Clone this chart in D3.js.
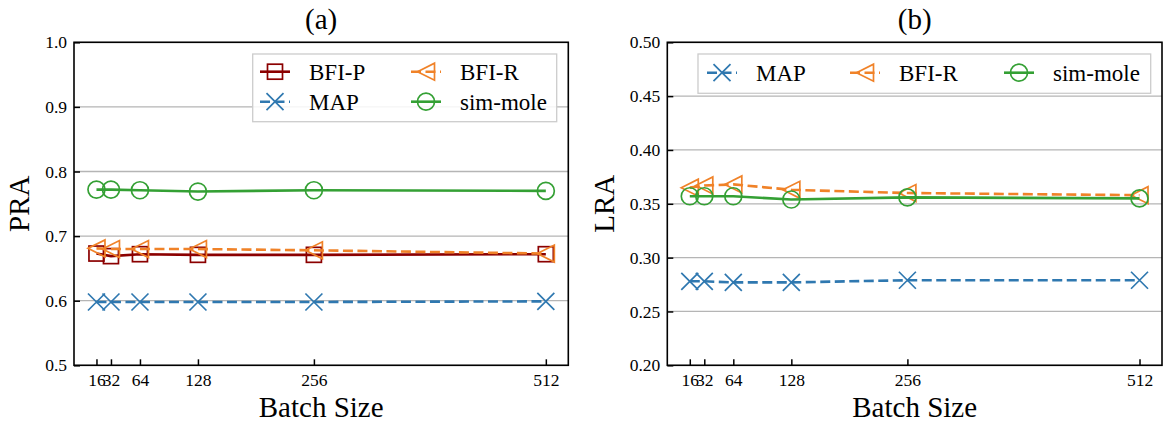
<!DOCTYPE html>
<html>
<head>
<meta charset="utf-8">
<script src="https://cdn.jsdelivr.net/npm/d3@7"></script>
<style>
  body { margin: 0; background: #fff; }
</style>
</head>
<body>
<svg id="chart" width="1172" height="426"></svg>
<script>
// data
const batchSizes = [16, 32, 64, 128, 256, 512];

const praBfiP = [0.673, 0.669, 0.672, 0.671, 0.671, 0.672];
const praMap  = [0.598, 0.598, 0.598, 0.598, 0.598, 0.599];
const praBfiR = [0.681, 0.680, 0.680, 0.680, 0.678, 0.673];
const praSim  = [0.772, 0.772, 0.771, 0.769, 0.771, 0.770];

const lraMap  = [0.278, 0.278, 0.277, 0.277, 0.279, 0.279];
const lraBfiR = [0.365, 0.367, 0.368, 0.363, 0.360, 0.358];
const lraSim  = [0.357, 0.357, 0.357, 0.354, 0.356, 0.355];

const praTicks = [0.5, 0.6, 0.7, 0.8, 0.9, 1.0];
const lraTicks = [0.20, 0.25, 0.30, 0.35, 0.40, 0.45, 0.50];

// series styles
const styles = {
    "BFI-P":    { color: "#8b0000", marker: "square",   dash: null },
    "MAP":      { color: "#2f78b0", marker: "x",        dash: "10,4.5" },
    "BFI-R":    { color: "#f08228", marker: "triangle", dash: "10,4.5" },
    "sim-mole": { color: "#34a034", marker: "circle",   dash: null }
};

const svg = d3.select("#chart");

function drawMarker(g, kind, cx, cy, color){
    const s = 8.5;
    const m = g.append("g").attr("transform", `translate(${cx},${cy})`)
        .attr("fill", "none").attr("stroke", color).attr("stroke-width", 1.7);
    if (kind === "square") {
        m.append("rect").attr("x", -7.5).attr("y", -7.5).attr("width", 15).attr("height", 15);
    } else if (kind === "circle") {
        m.append("circle").attr("r", s);
    } else if (kind === "x") {
        m.append("path").attr("d", `M${-s},${-s}L${s},${s}M${-s},${s}L${s},${-s}`);
    } else if (kind === "triangle") {
        m.append("path").attr("d", `M${-s},0L${s},${-s}L${s},${s}Z`);
    }
}

function drawPanel(p){
    const g = svg.append("g");
    const x = d3.scaleLinear().domain([-8.8, 536.8]).range([p.left, p.right]);
    const y = d3.scaleLinear().domain(p.yDomain).range([p.bottom, p.top]);

    // grid
    g.selectAll(".grid").data(p.ticks).enter().append("line")
        .attr("x1", p.left).attr("x2", p.right)
        .attr("y1", d => y(d)).attr("y2", d => y(d))
        .attr("stroke", "#b5b5b5").attr("stroke-width", 1.3);

    // lines + markers
    p.series.forEach(s => {
        const st = styles[s.name];
        const line = d3.line().x((d, i) => x(batchSizes[i])).y(d => y(d));
        g.append("path").datum(s.values)
            .attr("d", line)
            .attr("fill", "none")
            .attr("stroke", st.color)
            .attr("stroke-width", 2.6)
            .attr("stroke-dasharray", st.dash);
        s.values.forEach((v, i) => drawMarker(g, st.marker, x(batchSizes[i]), y(v), st.color));
    });

    // y axis
    const yAxis = d3.axisLeft(y).tickValues(p.ticks).tickFormat(d3.format(p.fmt))
        .tickSizeInner(-6).tickSizeOuter(0).tickPadding(7);
    const ya = g.append("g").attr("transform", `translate(${p.left},0)`).call(yAxis);
    // x axis
    const xAxis = d3.axisBottom(x).tickValues(batchSizes).tickFormat(d3.format("d"))
        .tickSizeInner(-6).tickSizeOuter(0).tickPadding(8);
    const xa = g.append("g").attr("transform", `translate(0,${p.bottom})`).call(xAxis);
    [ya, xa].forEach(a => {
        a.attr("font-family", null).attr("font-size", null);
        a.select(".domain").remove();
        a.selectAll("line").attr("stroke", "#000").attr("stroke-width", 1.5);
        a.selectAll("text").attr("font-size", 17.5).attr("fill", "#000");
    });

    // frame
    g.append("rect").attr("x", p.left).attr("y", p.top)
        .attr("width", p.right - p.left).attr("height", p.bottom - p.top)
        .attr("fill", "none").attr("stroke", "#000").attr("stroke-width", 1.6);

    // titles
    const cx = (p.left + p.right) / 2;
    g.append("text").attr("x", cx).attr("y", 29).attr("text-anchor", "middle")
        .attr("font-size", 29).text(p.title);
    g.append("text").attr("x", cx).attr("y", 417).attr("text-anchor", "middle")
        .attr("font-size", 29).text("Batch Size");
    g.append("text").attr("transform", `translate(${p.yLabelX},${(p.top + p.bottom) / 2}) rotate(-90)`)
        .attr("text-anchor", "middle").attr("font-size", 29).text(p.yLabel);

    // legend
    const lg = g.append("g");
    lg.append("rect").attr("x", p.legend.x).attr("y", p.legend.y)
        .attr("width", p.legend.w).attr("height", p.legend.h)
        .attr("fill", "#fff").attr("fill-opacity", 0.85)
        .attr("stroke", "#cccccc").attr("stroke-width", 1.3);
    p.legend.items.forEach(it => {
        const st = styles[it.name];
        lg.append("line").attr("x1", it.x).attr("x2", it.x + 30)
            .attr("y1", it.y).attr("y2", it.y)
            .attr("stroke", st.color).attr("stroke-width", 2.6)
            .attr("stroke-dasharray", st.dash ? "10,4.5" : null);
        drawMarker(lg, st.marker, it.x + 15, it.y, st.color);
        lg.append("text").attr("x", it.x + 49).attr("y", it.y + 8)
            .attr("font-size", 23).text(it.name);
    });
}

drawPanel({
    left: 74, right: 568.3, top: 42.3, bottom: 365.3,
    yDomain: [0.5, 1.0], ticks: praTicks, fmt: ".1f",
    title: "(a)", yLabel: "PRA", yLabelX: 29,
    series: [
        { name: "BFI-P", values: praBfiP },
        { name: "MAP", values: praMap },
        { name: "BFI-R", values: praBfiR },
        { name: "sim-mole", values: praSim }
    ],
    legend: {
        x: 252.7, y: 54, w: 304, h: 67.7,
        items: [
            { name: "BFI-P", x: 260, y: 71.7 },
            { name: "MAP", x: 260, y: 101.7 },
            { name: "BFI-R", x: 411, y: 71.7 },
            { name: "sim-mole", x: 411, y: 101.7 }
        ]
    }
});

drawPanel({
    left: 667.3, right: 1162, top: 42.3, bottom: 365.3,
    yDomain: [0.2, 0.5], ticks: lraTicks, fmt: ".2f",
    title: "(b)", yLabel: "LRA", yLabelX: 614,
    series: [
        { name: "MAP", values: lraMap },
        { name: "BFI-R", values: lraBfiR },
        { name: "sim-mole", values: lraSim }
    ],
    legend: {
        x: 698, y: 54, w: 452.7, h: 39.3,
        items: [
            { name: "MAP", x: 707, y: 72.7 },
            { name: "BFI-R", x: 850, y: 72.7 },
            { name: "sim-mole", x: 1004, y: 72.7 }
        ]
    }
});

// one serif face for every label, the axis groups included
svg.selectAll("text").style("font-family", "Liberation Serif");
</script>
</body>
</html>
